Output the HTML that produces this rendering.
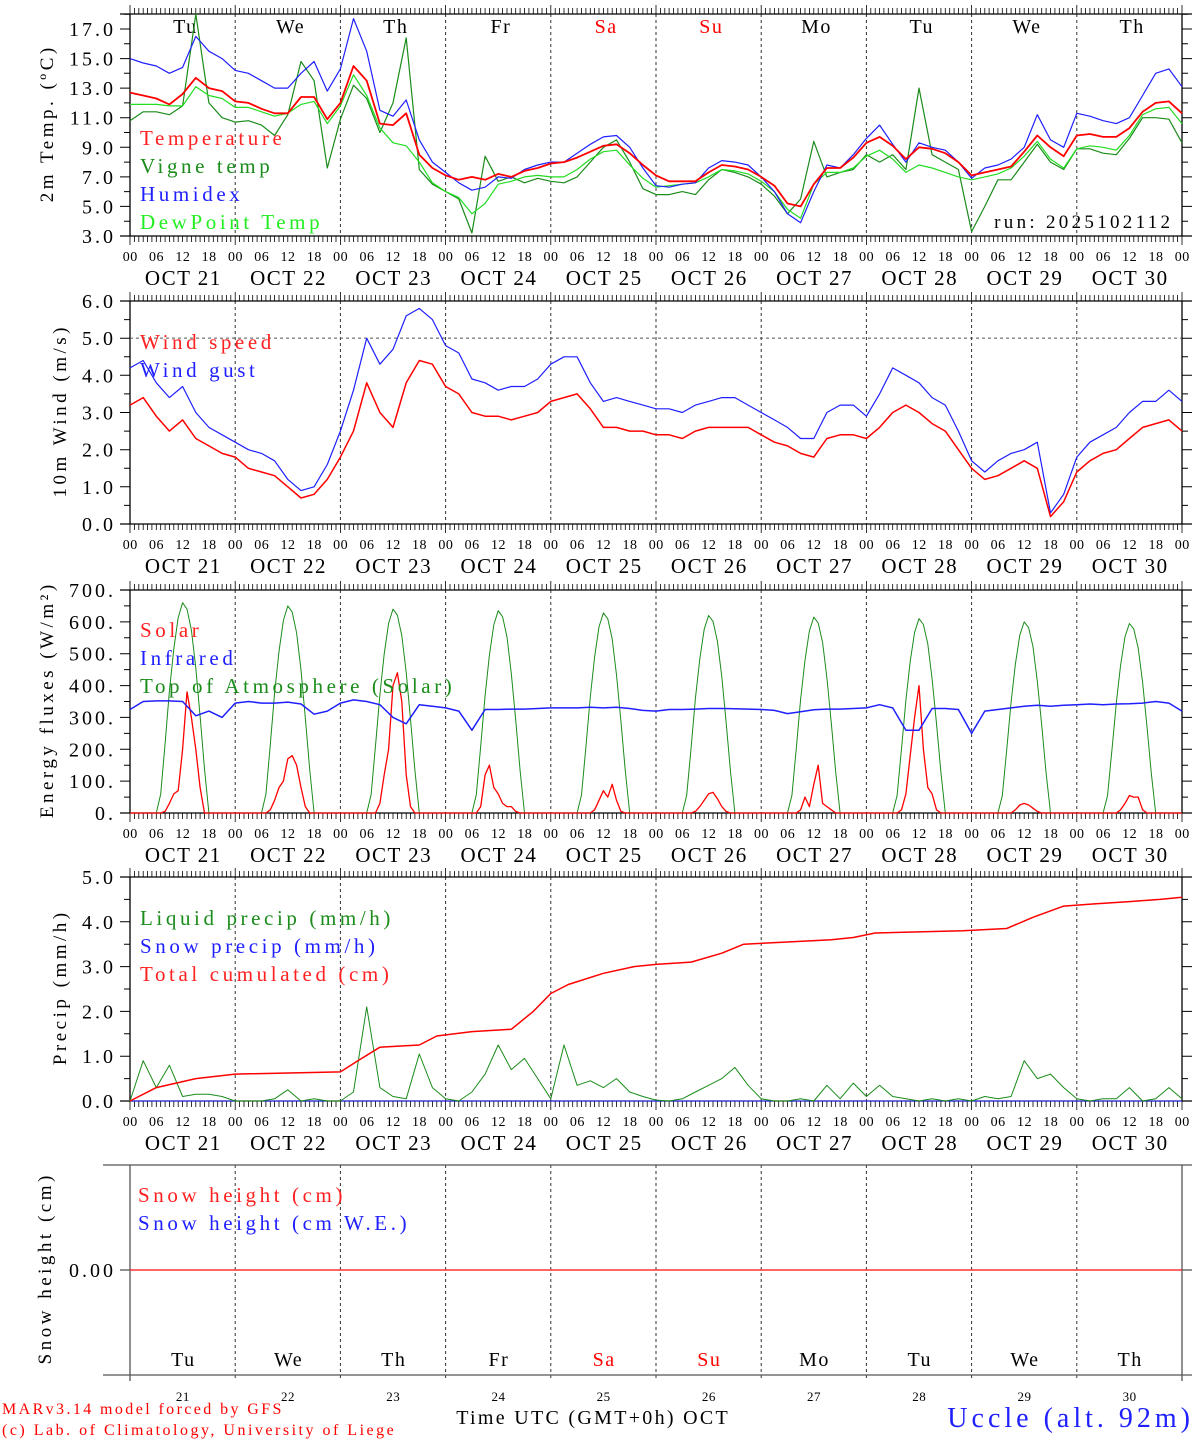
<!DOCTYPE html>
<html><head><meta charset="utf-8">
<style>
html,body{margin:0;padding:0;background:#fff;}
svg{display:block;font-family:"Liberation Serif",serif;}
</style></head>
<body>
<svg id="chart" width="1194" height="1440" viewBox="0 0 1194 1440" xmlns="http://www.w3.org/2000/svg"></svg>
<script>
// ---------- DATA ----------
const dayNames = ["Tu","We","Th","Fr","Sa","Su","Mo","Tu","We","Th"];
const dayColors = ["#000","#000","#000","#000","#f00","#f00","#000","#000","#000","#000"];
const dayLabels = ["OCT 21","OCT 22","OCT 23","OCT 24","OCT 25","OCT 26","OCT 27","OCT 28","OCT 29","OCT 30"];
const dayNums = ["21","22","23","24","25","26","27","28","29","30"];
const hourLabels = ["00","06","12","18"];
// 3-hourly series, t = 0..240 h
const temperature = [12.7,12.5,12.3,11.9,12.6,13.7,13.0,12.8,12.1, 12.0,11.6,11.3,11.3,12.4,12.4,10.9,12.0, 14.5,13.5,10.6,10.5,11.3,8.5,7.6,7.1, 6.8,7.0,6.8,7.2,7.0,7.4,7.6,7.9, 8.0,8.3,8.7,9.1,9.2,8.6,7.8,7.1, 6.7,6.7,6.7,7.3,7.8,7.7,7.5,7.0, 6.4,5.2,5.0,6.5,7.6,7.6,8.3,9.3, 9.7,9.1,8.2,9.0,8.9,8.6,8.0,7.1, 7.3,7.5,7.7,8.7,9.8,9.0,8.4,9.8, 9.9,9.7,9.7,10.3,11.4,12.0,12.1,11.3];
const humidex = [15.0,14.7,14.5,14.0,14.4,16.5,15.5,15.0,14.2, 14.0,13.5,13.0,13.0,14.0,14.8,12.8,14.3, 17.7,15.5,11.5,11.1,12.2,9.5,8.0,7.3, 6.6,6.1,6.3,7.0,6.9,7.5,7.8,8.0, 8.0,8.6,9.2,9.7,9.8,9.0,7.6,6.4, 6.3,6.5,6.6,7.6,8.1,8.0,7.8,7.0, 6.0,4.5,3.9,6.0,7.8,7.6,8.5,9.6, 10.5,9.2,8.0,9.3,9.0,8.8,8.0,6.9, 7.6,7.8,8.2,9.0,11.2,9.5,9.0,11.3, 11.1,10.8,10.6,11.0,12.5,14.0,14.3,13.1];
const dewpoint = [11.9,11.9,11.9,11.8,11.8,13.1,12.5,12.3,11.7, 11.7,11.4,11.1,11.3,11.9,12.1,10.6,11.8, 13.9,12.5,10.3,9.3,9.1,8.0,6.6,6.0, 5.6,4.5,5.2,6.5,6.7,7.0,7.1,7.0, 7.0,7.5,8.2,8.7,8.8,7.8,6.9,6.3, 6.4,6.5,6.6,7.0,7.5,7.4,7.2,6.7, 6.0,4.8,4.2,6.5,7.3,7.3,7.6,8.4, 8.8,8.2,7.3,7.8,7.6,7.3,7.0,6.8, 7.0,7.2,7.6,8.4,9.4,8.2,7.6,8.9, 9.1,9.0,8.8,9.8,11.2,11.6,11.7,10.6];
const vigne = [10.8,11.4,11.4,11.2,11.8,18.0,12.0,11.0,10.7, 10.8,10.5,9.8,11.2,14.8,13.5,7.6,10.9, 13.2,12.3,10.0,12.0,16.4,7.5,6.5,6.0, 5.5,3.2,8.4,6.7,7.0,6.6,6.9,6.7, 6.6,7.0,8.0,9.0,9.5,8.0,6.2,5.8, 5.8,6.0,5.8,6.8,7.5,7.3,7.0,6.5, 5.7,4.5,5.5,9.4,7.0,7.3,7.5,8.5, 8.0,8.5,7.5,13.0,8.5,8.0,7.5,3.3, 5.0,6.8,6.8,8.0,9.2,8.0,7.5,8.9, 8.9,8.6,8.5,9.6,11.0,11.0,10.9,9.3];
const windSpeed = [3.2,3.4,2.9,2.5,2.8,2.3,2.1,1.9,1.8, 1.5,1.4,1.3,1.0,0.7,0.8,1.2,1.8, 2.5,3.8,3.0,2.6,3.8,4.4,4.3,3.7, 3.5,3.0,2.9,2.9,2.8,2.9,3.0,3.3, 3.4,3.5,3.1,2.6,2.6,2.5,2.5,2.4, 2.4,2.3,2.5,2.6,2.6,2.6,2.6,2.4, 2.2,2.1,1.9,1.8,2.3,2.4,2.4,2.3, 2.6,3.0,3.2,3.0,2.7,2.5,2.0,1.5, 1.2,1.3,1.5,1.7,1.5,0.2,0.6,1.4, 1.7,1.9,2.0,2.3,2.6,2.7,2.8,2.5];
const windGust = [4.2,4.4,3.8,3.4,3.7,3.0,2.6,2.4,2.2, 2.0,1.9,1.7,1.2,0.9,1.0,1.6,2.5, 3.6,5.0,4.3,4.7,5.6,5.8,5.5,4.8, 4.6,3.9,3.8,3.6,3.7,3.7,3.9,4.3, 4.5,4.5,3.8,3.3,3.4,3.3,3.2,3.1, 3.1,3.0,3.2,3.3,3.4,3.4,3.2,3.0, 2.8,2.6,2.3,2.3,3.0,3.2,3.2,2.9, 3.5,4.2,4.0,3.8,3.4,3.2,2.5,1.7, 1.4,1.7,1.9,2.0,2.2,0.3,0.8,1.8, 2.2,2.4,2.6,3.0,3.3,3.3,3.6,3.3];
const infrared = [325,350,352,352,350,305,320,300,345, 350,345,345,348,342,310,320,345, 355,350,340,300,280,340,335,330, 320,260,325,325,326,326,328,330, 330,330,332,330,332,328,322,320, 325,325,326,328,328,327,326,325, 322,312,318,324,326,326,328,330, 340,330,260,260,328,328,325,250, 320,325,330,335,338,335,338,340, 342,340,342,343,345,350,345,320];
// hourly daylight values (hours 6..18) per day
const daylightHours = [6,7,8,9,10,11,12,13,14,15,16,17,18];
const toaShape = [0,0.09,0.33,0.58,0.78,0.93,1.0,0.97,0.87,0.69,0.46,0.21,0];
const toaPeak = [660,650,640,635,628,620,615,610,600,595];
const solar = [
 [0,0,5,30,60,70,200,380,300,200,80,0,0],
 [0,0,10,40,80,100,170,180,150,80,20,0,0],
 [0,0,0,30,120,200,400,440,350,120,20,0,0],
 [0,0,20,120,150,80,60,30,20,20,5,0,0],
 [0,0,0,0,10,40,70,50,90,40,5,0,0],
 [0,0,0,5,20,40,60,65,45,20,5,0,0],
 [0,0,0,10,50,20,90,150,30,20,10,0,0],
 [0,0,10,60,180,300,400,200,80,60,10,0,0],
 [0,0,0,0,10,25,30,25,15,5,0,0,0],
 [0,0,0,0,10,30,55,50,50,10,0,0,0]];
const liquidPrecip = [0,0.9,0.3,0.8,0.1,0.15,0.15,0.1,0, 0,0,0.05,0.25,0,0.05,0,0, 0.2,2.1,0.3,0.1,0.05,1.05,0.3,0.05, 0,0.2,0.6,1.25,0.7,0.95,0.5,0.05, 1.25,0.35,0.45,0.3,0.5,0.2,0.1,0.02, 0,0.05,0.2,0.35,0.5,0.75,0.35,0.05, 0,0,0.05,0,0.35,0.05,0.4,0.1, 0.35,0.1,0.05,0,0.05,0,0.05,0, 0.1,0.05,0.1,0.9,0.5,0.6,0.3,0.05, 0,0.05,0.05,0.3,0,0.05,0.3,0.05];
const snowPrecip = new Array(81).fill(0);
const cumHours = [0,6,15,24,48,52,57,66,70,78,87,92,96,100,108,115,120,128,135,140,150,160,165,170,190,200,206,213,220,228,235,240];
const cumTotal = [0,0.3,0.5,0.6,0.65,0.9,1.2,1.25,1.45,1.55,1.6,2.0,2.4,2.6,2.85,3.0,3.05,3.1,3.3,3.5,3.55,3.6,3.65,3.75,3.8,3.85,4.1,4.35,4.4,4.45,4.5,4.55];
const snowHeight = [0,0];
const snowHours = [0,240];
const tempTicks = [3,5,7,9,11,13,15,17];
const windTicks = [0,1,2,3,4,5,6];
const fluxTicks = [0,100,200,300,400,500,600,700];
const precipTicks = [0,1,2,3,4,5];

// ---------- HELPERS ----------
const svg = document.getElementById('chart');
const NS = "http://www.w3.org/2000/svg";
const X0 = 130, X1 = 1182;
function xs(t){ return X0 + t/240*(X1-X0); }
function mk(tag, attrs, parent){
  const e = document.createElementNS(NS, tag);
  for (const k in attrs) e.setAttribute(k, attrs[k]);
  (parent||svg).appendChild(e);
  return e;
}
function txt(x,y,s,size,color,anchor,parent,ls){
  ls = ls||0; anchor = anchor||'start';
  let xx = x;
  if (anchor==='end') xx = x + ls;
  else if (anchor==='middle') xx = x + ls/2;
  const e = mk('text',{x:xx,y:y,'font-size':size,fill:color||'#000','text-anchor':anchor,'letter-spacing':ls},parent);
  e.textContent = s;
  return e;
}
function makeY(vmin,vmax,ytop,ybot){ return v => ybot - (v-vmin)/(vmax-vmin)*(ybot-ytop); }
function drawSeries(times, vals, ys, color, w, name){
  const pts = vals.map((v,i)=> xs(times[i]).toFixed(1)+','+ys(v).toFixed(1)).join(' ');
  const p = mk('polyline',{points:pts,fill:'none',stroke:color,'stroke-width':w,'stroke-linejoin':'round'});
  
  
  return p;
}
const t3 = Array.from({length:81},(_,i)=>i*3);

function panel(cfg){
  const g = mk('g',{});
  
  
  const {top,bot} = cfg;
  for (let d=1; d<10; d++){
    const l = mk('line',{x1:xs(d*24),x2:xs(d*24),y1:top,y2:bot,stroke:'#333','stroke-width':1,'stroke-dasharray':'3,3'},g);
    
    
  }
  mk('line',{x1:X0,x2:X0,y1:top,y2:bot,stroke:'#000','stroke-width':1.3},g);
  mk('line',{x1:X1,x2:X1,y1:top,y2:bot,stroke:'#000','stroke-width':1.3},g);
  mk('line',{x1:X0-10,x2:X1+10,y1:top,y2:top,stroke:'#000','stroke-width':1.3},g);
  mk('line',{x1:X0-10,x2:X1+10,y1:bot,y2:bot,stroke:'#000','stroke-width':1.3},g);
  let d = '';
  for (let h=0; h<=240; h++){
    const x = xs(h).toFixed(1);
    const len = (h%24===0)?9:6;
    d += `M${x},${top}V${top-len}M${x},${bot}V${bot+len}`;
  }
  mk('path',{d:d,stroke:'#000','stroke-width':0.8,fill:'none'},g);
  const ys = cfg.ys;
  let yd='';
  cfg.minor.forEach(v=>{ const y=ys(v).toFixed(1); yd+=`M${X0},${y}H${X0-6}M${X1},${y}H${X1+6}`; });
  cfg.ticks.forEach(v=>{ const y=ys(v).toFixed(1); yd+=`M${X0},${y}H${X0-10}M${X1},${y}H${X1+10}`; });
  mk('path',{d:yd,stroke:'#000','stroke-width':1,fill:'none'},g);
  cfg.ticks.forEach(v=>{
    const t = txt(113, ys(v)+7, cfg.fmt(v), 20, '#000','end',g,3);
    
    
  });
  for (let dd=0; dd<10; dd++){
    hourLabels.forEach((hl,k)=>{
      const t = txt(xs(dd*24+k*6), bot+25, hl, 14, '#000','middle',g,0.5);
      
      
    });
    const o = txt(xs(dd*24+12), bot+49, dayLabels[dd], 21, '#000','middle',g,1.5);
    
    
  }
  txt(xs(240), bot+25, '00', 14, '#000','middle',g,0.5);
  const at = txt(0,0,cfg.title,19,'#000','middle',g,3.5);
  at.setAttribute('transform',`translate(${cfg.titleX},${(top+bot)/2}) rotate(-90)`);
  
  
  return g;
}
function legend(items, x, y0, step){
  items.forEach((it,i)=>{
    const t = txt(x, y0+i*step, it[0], 21, it[1], 'start', null, 3.6);
    
    
  });
}
function range(a,b,s){ const r=[]; for(let v=a; v<=b+1e-9; v+=s) r.push(+v.toFixed(3)); return r; }

// ---------- PANEL 1 ----------
const y1 = makeY(3,18,14.2,236);
panel({name:'temperature-panel',top:14,bot:236,ys:y1,ticks:tempTicks,minor:range(3,18,1),fmt:v=>v.toFixed(1),title:'2m Temp. (ºC)',titleX:53});
dayNames.forEach((n,i)=>{
  const t = txt(xs(i*24+12)+2, 33, n, 20, dayColors[i],'middle',null,1.5);
  
  
});
drawSeries(t3, vigne, y1, '#1a8c1a', 1.2, 'vigne-temp-line');
drawSeries(t3, dewpoint, y1, '#22dd22', 1.2, 'dewpoint-line');
drawSeries(t3, humidex, y1, '#1f1fff', 1.2, 'humidex-line');
drawSeries(t3, temperature, y1, '#ff0000', 1.8, 'temperature-line');
legend([['Temperature','#ff2020'],['Vigne temp','#1a8c1a'],['Humidex','#2020ff'],['DewPoint Temp','#22ee22']],140,145,28);
const run = txt(1170,228,'run: 2025102112',19,'#000','end',null,3.3);



// ---------- PANEL 2 ----------
const y2 = makeY(0,6,301,524);
panel({name:'wind-panel',top:301,bot:524,ys:y2,ticks:windTicks,minor:range(0,6,0.5),fmt:v=>v.toFixed(1),title:'10m Wind (m/s)',titleX:66});
const ref5 = mk('line',{x1:X0,x2:X1,y1:y2(5),y2:y2(5),stroke:'#555','stroke-width':1,'stroke-dasharray':'3,3'});


drawSeries(t3, windGust, y2, '#1f1fff', 1.2, 'wind-gust-line');
drawSeries(t3, windSpeed, y2, '#ff0000', 1.5, 'wind-speed-line');
legend([['Wind speed','#ff2020'],['Wind gust','#2020ff']],140,349,28);

// ---------- PANEL 3 ----------
const y3 = makeY(0,700,590,813);
panel({name:'energy-panel',top:590,bot:813,ys:y3,ticks:fluxTicks,minor:range(0,700,50),fmt:v=>v+'.',title:'Energy fluxes (W/m²)',titleX:53});
const dh = [], toaV = [], solV = [];
for (let d=0; d<10; d++){
  daylightHours.forEach((h,k)=>{ dh.push(d*24+h); toaV.push(toaShape[k]*toaPeak[d]); solV.push(solar[d][k]); });
}
const dh2=[0].concat(dh,[240]);
drawSeries(dh2, [0].concat(toaV,[0]), y3, '#1a8c1a', 1, 'toa-solar-line');
drawSeries(dh2, [0].concat(solV,[0]), y3, '#ff0000', 1.3, 'solar-line');
drawSeries(t3, infrared, y3, '#1f1fff', 1.5, 'infrared-line');
legend([['Solar','#ff2020'],['Infrared','#2020ff'],['Top of Atmosphere (Solar)','#1a8c1a']],140,637,28);

// ---------- PANEL 4 ----------
const y4 = makeY(0,5,877,1101);
panel({name:'precip-panel',top:877,bot:1101,ys:y4,ticks:precipTicks,minor:range(0,5,0.5),fmt:v=>v.toFixed(1),title:'Precip (mm/h)',titleX:66});
drawSeries(t3, snowPrecip, y4, '#1f1fff', 1, 'snow-precip-line');
drawSeries(t3, liquidPrecip, y4, '#1a8c1a', 1, 'liquid-precip-line');
drawSeries(cumHours, cumTotal, y4, '#ff0000', 1.5, 'total-cumulated-line');
legend([['Liquid precip (mm/h)','#1a8c1a'],['Snow precip (mm/h)','#2020ff'],['Total cumulated (cm)','#ff2020']],140,925,28);

// ---------- PANEL 5 ----------
(function(){
  const top=1165, bot=1375;
  const g = mk('g',{});
  
  
  for (let d=1; d<10; d++) mk('line',{x1:xs(d*24),x2:xs(d*24),y1:top,y2:bot+6,stroke:'#333','stroke-width':1,'stroke-dasharray':'3,3'},g);
  mk('line',{x1:103,x2:X1+10,y1:top,y2:top,stroke:'#555','stroke-width':1.3},g);
  mk('line',{x1:103,x2:X1+10,y1:bot,y2:bot,stroke:'#555','stroke-width':1.3},g);
  mk('line',{x1:X0,x2:X0,y1:top,y2:bot+6,stroke:'#555','stroke-width':1.3},g);
  mk('line',{x1:X1,x2:X1,y1:top,y2:bot+6,stroke:'#555','stroke-width':1.3},g);
  mk('line',{x1:X0-10,x2:X0,y1:1270,y2:1270,stroke:'#555','stroke-width':1.3},g);
  mk('line',{x1:X1,x2:X1+10,y1:1270,y2:1270,stroke:'#555','stroke-width':1.3},g);
  const l0 = txt(113,1277,'0.00',20,'#000','end',g,3);
  
  
  const at = txt(0,0,'Snow height (cm)',19,'#000','middle',g,3.5);
  at.setAttribute('transform','translate(51,1270) rotate(-90)');
  
  
  const ys5 = v => 1270 - v*50;
  drawSeries(snowHours, snowHeight, ys5, '#ff3333', 1.5, 'snow-height-line');
  dayNames.forEach((n,i)=>{
    const t = txt(xs(i*24+12), 1366, n, 20, dayColors[i],'middle',g,1.5);
    
    
    const dn = txt(xs(i*24+12), 1401, dayNums[i], 13, '#000','middle',g,0.5);
    
    
  });
  legend([['Snow height (cm)','#ff2020'],['Snow height (cm W.E.)','#2020ff']],138,1202,28);
})();

// footer
const f1 = txt(2,1414,'MARv3.14 model forced by GFS',16,'#ff0000','start',null,2.4);  
const f2 = txt(2,1435,'(c) Lab. of Climatology, University of Liege',16,'#ff0000','start',null,2.5);  
const f3 = txt(592,1424,'Time UTC (GMT+0h) OCT',20,'#000','middle',null,2.3);  
const f4 = txt(1190,1427,'Uccle (alt. 92m)',28,'#2020ff','end',null,4);  
</script>
</body></html>
